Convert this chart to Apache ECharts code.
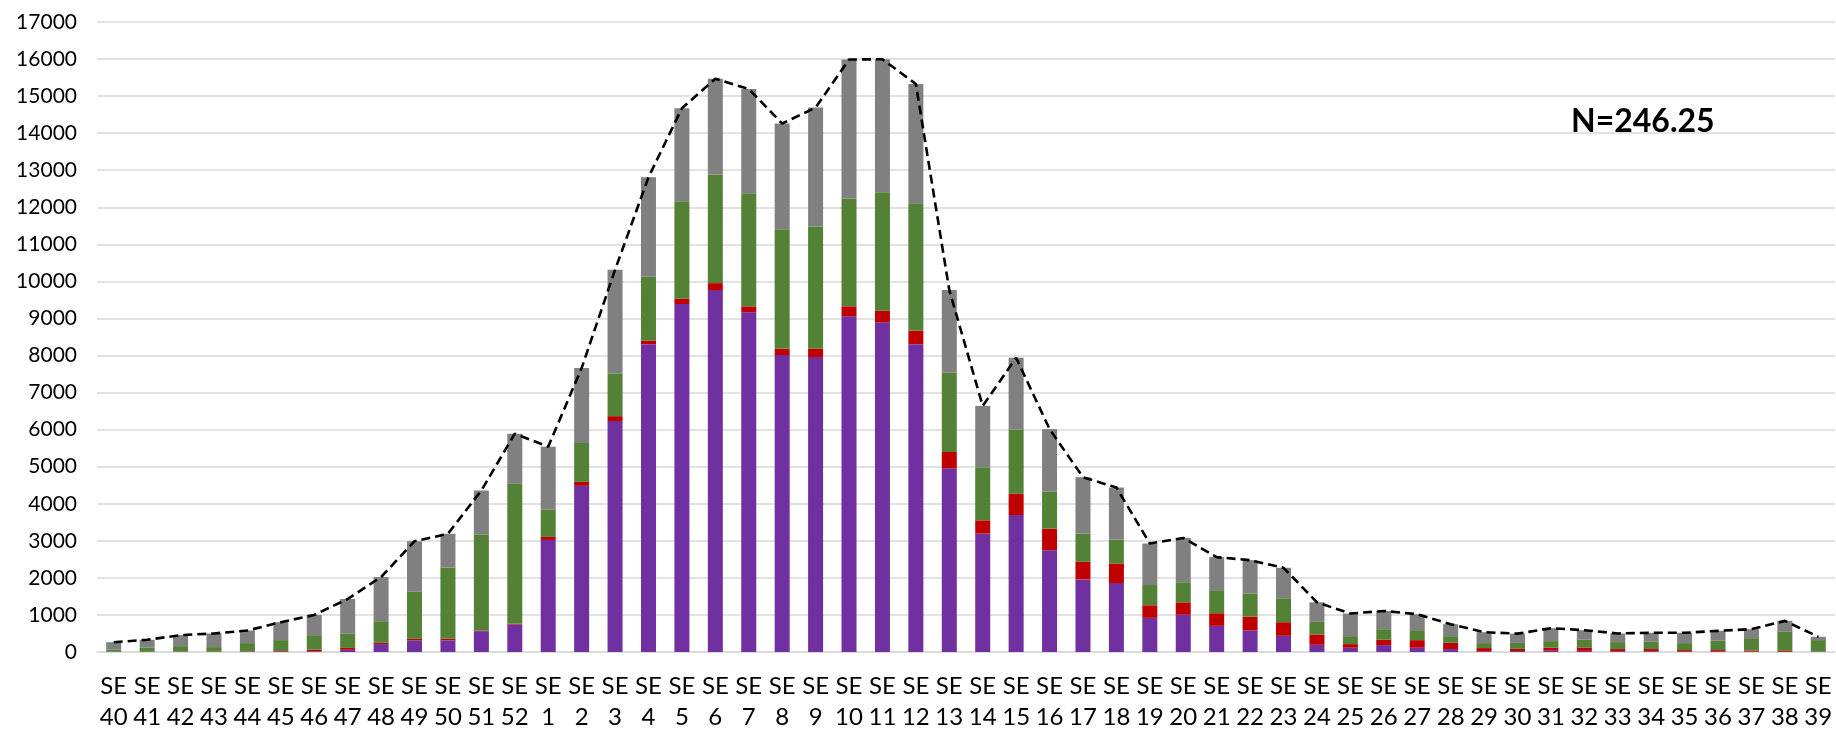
<!DOCTYPE html>
<html>
<head>
<meta charset="utf-8">
<script src="https://cdn.jsdelivr.net/npm/echarts@6/dist/echarts.min.js"></script>
<style>
html,body{margin:0;padding:0;background:#fff;}
#chart{width:1836px;height:733px;}
</style>
</head>
<body>
<div id="chart"></div>
<script>
const categories = ["SE\n40","SE\n41","SE\n42","SE\n43","SE\n44","SE\n45","SE\n46","SE\n47","SE\n48","SE\n49","SE\n50","SE\n51","SE\n52",
  "SE\n1","SE\n2","SE\n3","SE\n4","SE\n5","SE\n6","SE\n7","SE\n8","SE\n9","SE\n10","SE\n11","SE\n12","SE\n13","SE\n14","SE\n15","SE\n16","SE\n17","SE\n18","SE\n19","SE\n20",
  "SE\n21","SE\n22","SE\n23","SE\n24","SE\n25","SE\n26","SE\n27","SE\n28","SE\n29","SE\n30","SE\n31","SE\n32","SE\n33","SE\n34","SE\n35","SE\n36","SE\n37","SE\n38","SE\n39"];

const purpleValues = [5,5,5,5,5,10,15,60,213,312,312,562,740,
  3024,4484,6230,8307,9390,9766,9168,8011,7958,9059,8898,8307,4958,3194,3696,2747,1959,1861,921,1005,
  706,580,437,195,115,186,115,79,20,25,35,30,20,20,10,10,10,5,5];
const redValues = [5,5,7,7,10,15,46,50,36,44,44,18,20,
  81,107,134,98,144,188,160,170,232,269,313,367,439,359,573,582,475,528,340,335,
  340,376,367,278,98,144,205,170,86,60,80,94,59,59,42,42,30,25,5];
const greenValues = [60,114,147,120,225,296,394,381,582,1281,1925,2588,3778,
  743,1048,1155,1719,2632,2928,3053,3224,3295,2909,3196,3438,2140,1432,1737,1003,761,644,546,542,
  622,618,645,340,215,286,269,179,134,160,179,206,188,197,188,251,334,514,311];
const grayValues = [195,206,296,368,340,483,546,940,1191,1352,909,1190,1352,
  1692,2023,2793,2686,2506,2587,2811,2855,3205,3751,3588,3214,2229,1656,1934,1683,1522,1406,1119,1196,
  891,904,823,528,609,492,430,322,295,250,349,259,233,242,278,268,242,296,89];
const totalValues = [265,330,455,500,580,804,1001,1431,2022,2989,3190,4358,5890,
  5540,7662,10312,12810,14672,15469,15192,14260,14690,15988,15995,15326,9766,6641,7940,6015,4717,4439,2926,3078,
  2559,2478,2272,1341,1037,1108,1019,750,535,495,643,589,500,518,518,571,616,840,410];
const annotationText = "N=246.25";

const FONT = "Lato";
const chart = echarts.init(document.getElementById('chart'), null, {renderer:'canvas'});
const barBase = {type:'bar', stack:'total', barWidth:15, animation:false};
chart.setOption({
  animation:false,
  backgroundColor:'#ffffff',
  grid:{left:97, right:1, top:22, bottom:78, containLabel:false},
  xAxis:{
    type:'category', data:categories,
    axisLine:{show:true, lineStyle:{color:'#d9d9d9', width:1.5}},
    axisTick:{show:false},
    axisLabel:{interval:0, fontFamily:FONT, fontSize:24, color:'#000', lineHeight:31, margin:19}
  },
  yAxis:{
    type:'value', min:0, max:17000, interval:1000,
    axisLine:{show:false}, axisTick:{show:false},
    splitLine:{lineStyle:{color:'#d9d9d9', width:1.5}},
    axisLabel:{fontFamily:FONT, fontSize:21, color:'#000', margin:20, formatter:function(v){return String(v);}}
  },
  graphic:[{
    type:'text', left:1571, top:106,
    style:{text:annotationText, font:'bold 32px Lato', fill:'#000'}
  }],
  series:[
    Object.assign({name:'purple', data:purpleValues, itemStyle:{color:'#7030A0'}}, barBase),
    Object.assign({name:'red', data:redValues, itemStyle:{color:'#C00000'}}, barBase),
    Object.assign({name:'green', data:greenValues, itemStyle:{color:'#538135'}}, barBase),
    Object.assign({name:'gray', data:grayValues, itemStyle:{color:'#808080'}}, barBase),
    {name:'total', type:'line', data:totalValues, symbol:'none', z:5,
     lineStyle:{color:'#000', width:2.6, type:[9,5]}}
  ]
});
</script>
</body>
</html>
